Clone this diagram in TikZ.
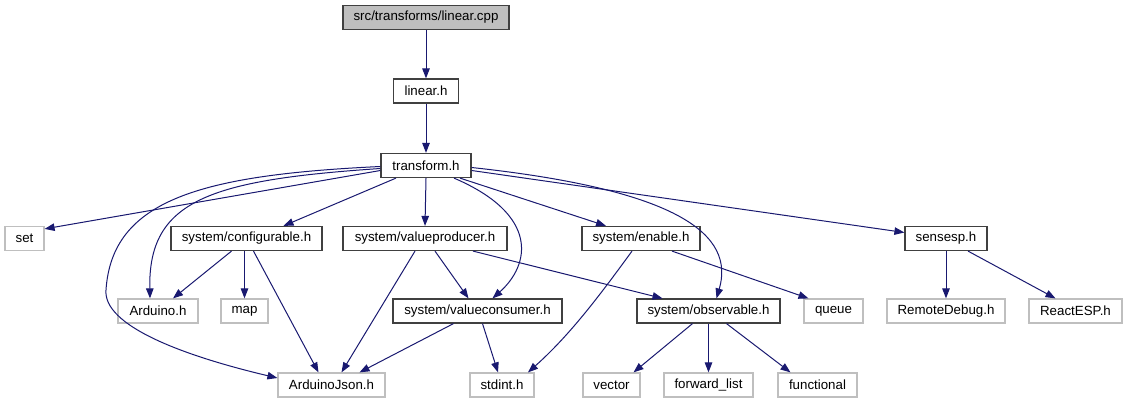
\documentclass[tikz,border=0pt]{standalone}
\usepackage{fontspec}
\setmainfont{Liberation Sans}
\usetikzlibrary{arrows.meta}
\definecolor{edgeblue}{HTML}{191970}
\definecolor{sysgray}{HTML}{BFBFBF}
\definecolor{boxline}{HTML}{404040}
\tikzset{
  incbox/.style={draw=boxline, fill=white, line width=1.2pt, minimum height=24pt, inner sep=0pt,
                 font=\fontsize{13.3}{16}\selectfont},
  sysbox/.style={incbox, draw=sysgray},
  rootbox/.style={incbox, fill=sysgray},
  dep/.style={draw=edgeblue, line width=1pt, -{Triangle[length=10pt,width=7.5pt]}}
}
\begin{document}
\begin{tikzpicture}[x=1pt, y=-1pt]
    \useasboundingbox (0,0) rectangle (1127,403);

    % top chain
    \node[rootbox, minimum width=166pt] (linearcpp) at (426,17.5) {src/transforms/linear.cpp};
    \node[incbox, minimum width=65pt] (linearh) at (426,91) {linear.h};
    \node[incbox, minimum width=90pt] (transformh) at (426,165.5) {transform.h};

    % second row
    \node[sysbox, minimum width=39pt] (seth) at (24.5,238.5) {set};
    \node[incbox, minimum width=151pt] (configurableh) at (246.5,238.5) {system/configurable.h};
    \node[incbox, minimum width=164pt] (valueproducerh) at (425,238.5) {system/valueproducer.h};
    \node[incbox, minimum width=118pt] (enableh) at (641,238.5) {system/enable.h};
    \node[incbox, minimum width=82pt] (sensesph) at (946,238.5) {sensesp.h};

    % third row
    \node[sysbox, minimum width=80pt] (arduinoh) at (158,311) {Arduino.h};
    \node[sysbox, minimum width=47pt] (maph) at (244.5,311) {map};
    \node[incbox, minimum width=169pt] (valueconsumerh) at (477.5,311) {system/valueconsumer.h};
    \node[incbox, minimum width=143pt] (observableh) at (708.5,311) {system/observable.h};
    \node[sysbox, minimum width=59pt] (queueh) at (833.5,311) {queue};
    \node[sysbox, minimum width=118pt] (remotedebugh) at (946,311) {RemoteDebug.h};
    \node[sysbox, minimum width=93pt] (reactesph) at (1075.5,311) {ReactESP.h};

    % bottom row
    \node[sysbox, minimum width=107pt] (arduinojsonh) at (331.5,385) {ArduinoJson.h};
    \node[sysbox, minimum width=64pt] (stdinth) at (502,385) {stdint.h};
    \node[sysbox, minimum width=57pt] (vectorh) at (611.5,385) {vector};
    \node[sysbox, minimum width=89pt] (forwardlisth) at (708.5,385) {forward\_list};
    \node[sysbox, minimum width=79pt] (functionalh) at (817.5,385) {functional};

    % includes
    \draw[dep] (linearcpp.south) -- (linearh.north);
    \draw[dep] (linearh.south) -- (transformh.north);

    \draw[dep] ([yshift=-5pt]transformh.west) -- ([yshift=-3pt]seth.north east);
    \draw[dep] ([yshift=-3pt]transformh.west) .. controls (210,180) and (148,200) .. ([xshift=-8pt]arduinoh.north);
    \draw[dep] ([yshift=-1pt]transformh.west) .. controls (200,175) and (112,200) .. (106,290)
               .. controls (103,325) and (180,355) .. ([yshift=7pt]arduinojsonh.west);
    \draw[dep] ([xshift=-30pt]transformh.south) -- ([xshift=37pt]configurableh.north);
    \draw[dep] (transformh.south) -- (valueproducerh.north);
    \draw[dep] ([xshift=34pt]transformh.south) -- ([xshift=-35pt]enableh.north);
    \draw[dep] ([yshift=-5pt]transformh.east) -- ([yshift=6pt]sensesph.west);
    \draw[dep] ([xshift=28pt]transformh.south) .. controls (540,215) and (530,265) .. ([xshift=15pt]valueconsumerh.north);
    \draw[dep] ([yshift=-2pt]transformh.east) .. controls (680,190) and (735,235) .. ([xshift=8pt]observableh.north);

    \draw[dep] ([xshift=-15pt]configurableh.south) -- ([xshift=15pt]arduinoh.north);
    \draw[dep] ([xshift=-2pt]configurableh.south) -- (maph.north);
    \draw[dep] ([xshift=7pt]configurableh.south) -- ([xshift=-13pt]arduinojsonh.north);

    \draw[dep] ([xshift=-10pt]valueproducerh.south) -- ([xshift=10pt]arduinojsonh.north);
    \draw[dep] ([xshift=10pt]valueproducerh.south) -- ([xshift=-9pt]valueconsumerh.north);
    \draw[dep] ([xshift=48pt]valueproducerh.south) -- ([xshift=-46pt]observableh.north);

    \draw[dep] ([xshift=-24pt]valueconsumerh.south) -- ([xshift=28pt]arduinojsonh.north);
    \draw[dep] ([xshift=5pt]valueconsumerh.south) -- ([xshift=-4pt]stdinth.north);

    \draw[dep] ([xshift=-9pt]enableh.south) .. controls (600,295) and (570,335) .. ([xshift=26pt]stdinth.north);
    \draw[dep] ([xshift=31pt]enableh.south) -- ([xshift=-25pt]queueh.north);

    \draw[dep] ([xshift=-16pt]observableh.south) -- ([xshift=22pt]vectorh.north);
    \draw[dep] (observableh.south) -- (forwardlisth.north);
    \draw[dep] ([xshift=18pt]observableh.south) -- ([xshift=-27pt]functionalh.north);

    \draw[dep] (sensesph.south) -- (remotedebugh.north);
    \draw[dep] ([xshift=22pt]sensesph.south) -- ([xshift=-20pt]reactesph.north);
\end{tikzpicture}
\end{document}
